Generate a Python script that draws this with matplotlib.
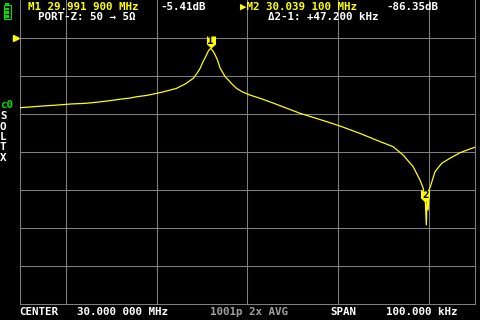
import matplotlib
matplotlib.use("Agg")
import matplotlib.pyplot as plt
from matplotlib.patches import Rectangle

# S21 log-mag trace (frequency in MHz, level in dB)
FREQ_MHZ = [
    29.9500, 29.9544, 29.9581, 29.9614, 29.9643, 29.9669, 29.9687, 29.9709,
    29.9724, 29.9742, 29.9757, 29.9779, 29.9801, 29.9814, 29.9830, 29.9844,
    29.9863, 29.9881, 29.9889, 29.9896, 29.9902, 29.9910, 29.9914, 29.9919,
    29.9924, 29.9929, 29.9934, 29.9940, 29.9951, 29.9960, 29.9964, 29.9976,
    29.9989, 30.0005, 30.0027, 30.0056, 30.0115, 30.0175, 30.0203, 30.0247,
    30.0291, 30.0320, 30.0342, 30.0364, 30.0379, 30.0386, 30.0391, 30.0393,
    30.0395, 30.0397, 30.0399, 30.0403, 30.0412, 30.0427, 30.0445, 30.0467,
    30.0489, 30.0500,
]
S21_DB = [
    -36.7, -35.9, -35.3, -34.7, -34.4, -33.8, -33.3, -32.6,
    -32.1, -31.6, -30.9, -30.2, -29.1, -28.4, -27.4, -26.5,
    -24.2, -21.2, -18.6, -15.9, -12.6, -8.9, -6.8, -5.41,
    -6.8, -8.9, -11.6, -15.9, -20.4, -22.6, -23.8, -26.5,
    -28.4, -30.0, -31.7, -34.2, -39.6, -44.1, -46.3, -50.2,
    -54.5, -57.2, -61.6, -67.7, -74.7, -78.9, -86.35, -98.4,
    -82.0, -90.5, -80.0, -77.4, -70.4, -65.9, -63.3, -60.4,
    -58.4, -57.5,
]

MARKER_FREQ = [29.9919, 30.0391]
MARKER_DB = [-5.41, -86.35]
MARKER_NAMES = ["1", "2"]

START_MHZ, STOP_MHZ = 29.95, 30.05
REF_DB, DB_PER_DIV, DIVS = 0, 20, 8
V_GRID = [29.96, 29.98, 30.00, 30.02, 30.04]

W, H = 480, 320
YELLOW = "#ffff00"
GRID = "#808080"
GREEN = "#00e000"
FONT = ["DejaVu Sans Mono", "DejaVu Sans"]
FS = 7.8


def px_text(fig, x, y, s, color="white", **kw):
    fig.text(x / W, 1 - y / H, s, color=color, fontsize=FS, family=FONT,
             fontweight="bold", va="top", ha="left", **kw)


fig = plt.figure(figsize=(W / 100, H / 100), dpi=100, facecolor="black")
ax = fig.add_axes([20 / W, 16 / H, 455 / W, 304 / H])
ax.set_facecolor("black")
ax.set_xlim(START_MHZ, STOP_MHZ)
top_db = REF_DB + DB_PER_DIV
ax.set_ylim(top_db - DIVS * DB_PER_DIV, top_db)
ax.set_xticks([])
ax.set_yticks([])
for side in ["left", "right", "bottom"]:
    ax.spines[side].set_color(GRID)
    ax.spines[side].set_linewidth(0.75)
ax.spines["top"].set_visible(False)

for f in V_GRID:
    ax.axvline(f, color=GRID, lw=0.75, zorder=1)
for i in range(1, DIVS):
    ax.axhline(top_db - i * DB_PER_DIV, color=GRID, lw=0.75, zorder=1)

ax.plot(FREQ_MHZ, S21_DB, color=YELLOW, lw=0.9, zorder=3)

# marker flags: tip on the trace, number in the body
flag = [(0, 0), (-4.5, 4), (-4.5, 12), (4.5, 12), (4.5, 4), (0, 0)]
for f, db, name in zip(MARKER_FREQ, MARKER_DB, MARKER_NAMES):
    ax.plot(f, db, marker=flag, markersize=24 * 0.72, color=YELLOW,
            markeredgewidth=0, linestyle="none", zorder=4, clip_on=False)
    ax.annotate(name, (f, db), xytext=(0, 7.5), textcoords="offset pixels",
                ha="center", va="center", color="black", fontsize=FS,
                family=FONT, fontweight="bold", zorder=5)

# reference level pointer left of the grid
ax.plot(-0.008, REF_DB, marker=">", markersize=5, color=YELLOW,
        transform=ax.get_yaxis_transform(), clip_on=False, zorder=4)

# header
px_text(fig, 28, 2, "M1 29.991 900 MHz", color=YELLOW)
px_text(fig, 160, 2, "-5.41dB")
px_text(fig, 38, 12, "PORT-Z: 50 → 5Ω")
px_text(fig, 240, 2, "▶M2 30.039 100 MHz", color=YELLOW)
px_text(fig, 386, 2, "-86.35dB")
px_text(fig, 268, 12, "Δ2-1: +47.200 kHz")

# footer
px_text(fig, 19, 307, "CENTER")
px_text(fig, 77, 307, "30.000 000 MHz")
px_text(fig, 210, 307, "1001p 2x AVG", color="#a0a0a0")
px_text(fig, 330, 307, "SPAN")
px_text(fig, 386, 307, "100.000 kHz")

# left side: channel and calibration flags
px_text(fig, 0, 100, "c0", color=GREEN)
for i, ch in enumerate("SOLTX"):
    px_text(fig, 0, 111 + i * 10.5, ch)


# battery icon
def px_rect(x, y, w, h, **kw):
    fig.patches.append(Rectangle((x / W, 1 - (y + h) / H), w / W, h / H,
                                 transform=fig.transFigure, **kw))


px_rect(5, 3, 4, 2, facecolor=GREEN, edgecolor="none")
px_rect(3.5, 5.5, 7, 13, facecolor="none", edgecolor=GREEN, lw=0.8)
for k in range(3):
    px_rect(5, 7.5 + k * 3.7, 4, 2.6, facecolor=GREEN, edgecolor="none")

fig.savefig("out.png", dpi=100, facecolor="black")
